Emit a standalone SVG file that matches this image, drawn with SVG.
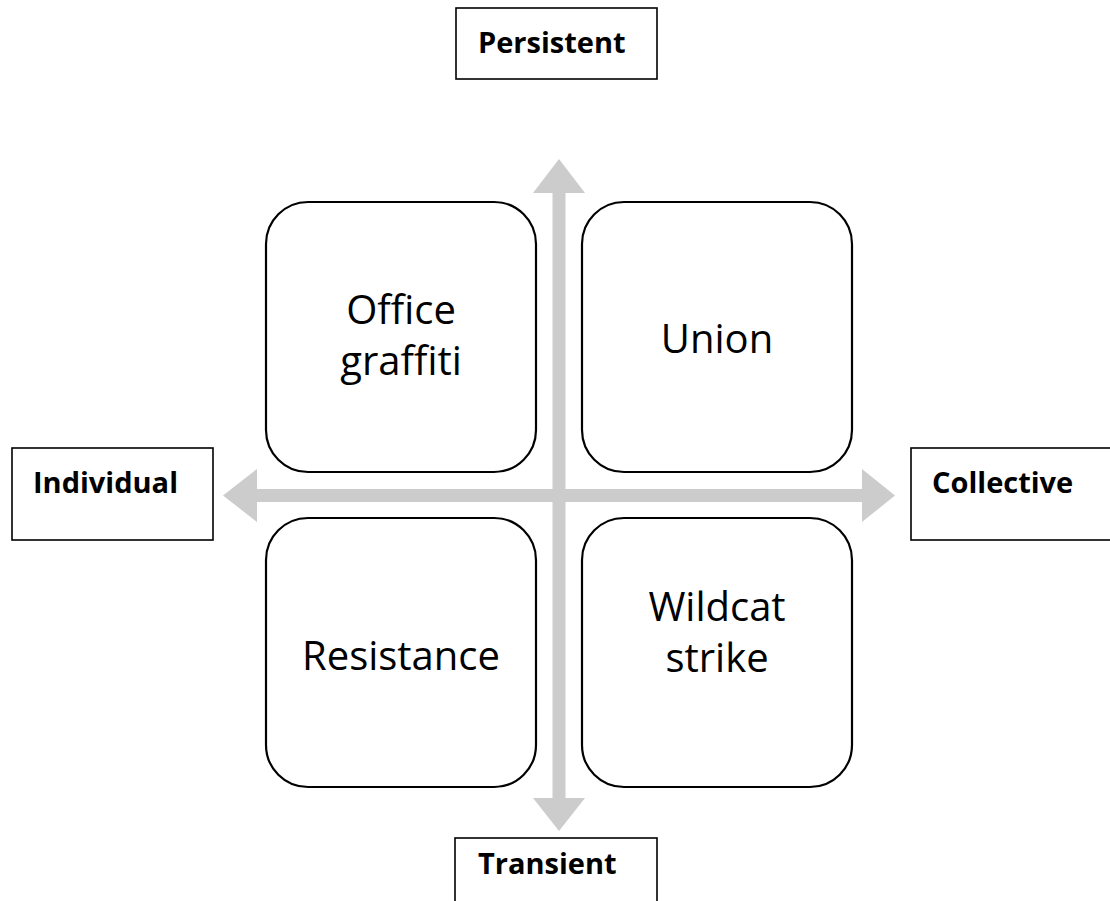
<svg xmlns="http://www.w3.org/2000/svg" width="1110" height="901" viewBox="0 0 1110 901">
<style>
.lbl{fill:#fff;stroke:#000;stroke-width:1.6}
.lt{font-family:"Open Sans","Noto Sans",sans-serif;font-weight:bold;font-size:29px;fill:#000}
.q{fill:#fff;stroke:#000;stroke-width:2.2}
.qt{font-family:"Open Sans","Noto Sans",sans-serif;font-size:40px;fill:#000;text-anchor:middle}
.arr{fill:#cccccc;stroke:none}
</style>
<rect width="1110" height="901" fill="#fff"/>
<g id="connectors">
<polygon class="arr" points="223,495.5 257,469 257,489 862,489 862,469 895,495.5 862,522 862,502 257,502 257,522"/>
<polygon class="arr" points="559,159 585,193 565.5,193 565.5,798 585,798 559,831 533,798 552.5,798 552.5,193 533,193"/>
</g>
<g id="persistent"><rect class="lbl" x="456" y="8" width="201" height="71"/><text class="lt" x="478" y="53">Persistent</text></g>
<g id="individual"><rect class="lbl" x="12" y="448" width="201" height="92"/><text class="lt" x="33" y="493">Individual</text></g>
<g id="collective"><rect class="lbl" x="911" y="448" width="201" height="92"/><text class="lt" x="932" y="493">Collective</text></g>
<g id="transient"><rect class="lbl" x="455" y="838" width="202" height="92"/><text class="lt" x="478" y="874">Transient</text></g>
<g id="office-graffiti"><rect class="q" x="266" y="202" width="270" height="270" rx="42"/><text class="qt" x="401" y="324">Office</text><text class="qt" x="401" y="375">graffiti</text></g>
<g id="union"><rect class="q" x="582" y="202" width="270" height="270" rx="42"/><text class="qt" x="717" y="353">Union</text></g>
<g id="resistance"><rect class="q" x="266" y="518" width="270" height="269" rx="42"/><text class="qt" x="401" y="670">Resistance</text></g>
<g id="wildcat-strike"><rect class="q" x="582" y="518" width="270" height="269" rx="42"/><text class="qt" x="717" y="621">Wildcat</text><text class="qt" x="717" y="672">strike</text></g>
</svg>
